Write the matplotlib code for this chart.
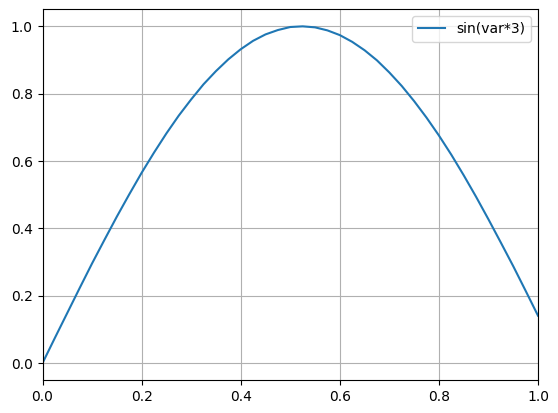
import matplotlib
matplotlib.use("Agg")
from matplotlib import pyplot as plt

# values, every 0.025 along x
var = [0.0, 0.025, 0.05, 0.075, 0.1, 0.125, 0.15, 0.175, 0.2, 0.225,
       0.25, 0.275, 0.3, 0.325, 0.35, 0.375, 0.4, 0.425, 0.45, 0.475,
       0.5, 0.525, 0.55, 0.575, 0.6, 0.625, 0.65, 0.675, 0.7, 0.725,
       0.75, 0.775, 0.8, 0.825, 0.85, 0.875, 0.9, 0.925, 0.95, 0.975, 1.0]
vals = [0.0, 0.075, 0.149, 0.223, 0.296, 0.366, 0.435, 0.501, 0.565, 0.625,
        0.682, 0.735, 0.783, 0.828, 0.867, 0.902, 0.932, 0.957, 0.976, 0.989,
        0.998, 1.0, 0.997, 0.988, 0.974, 0.954, 0.929, 0.899, 0.863, 0.823,
        0.778, 0.729, 0.676, 0.619, 0.558, 0.494, 0.427, 0.358, 0.288, 0.215, 0.141]

fig = plt.figure(figsize=(5.58, 4.13), dpi=100)
ax = fig.add_axes([42.5/558, 33/413, 495.5/558, 370.5/413])
ax.plot(var, vals, label="sin(var*3)")
ax.set_xlim(0, 1)
ax.grid(True)
ax.legend(loc="upper right")
fig.savefig("out.png", dpi=100)
